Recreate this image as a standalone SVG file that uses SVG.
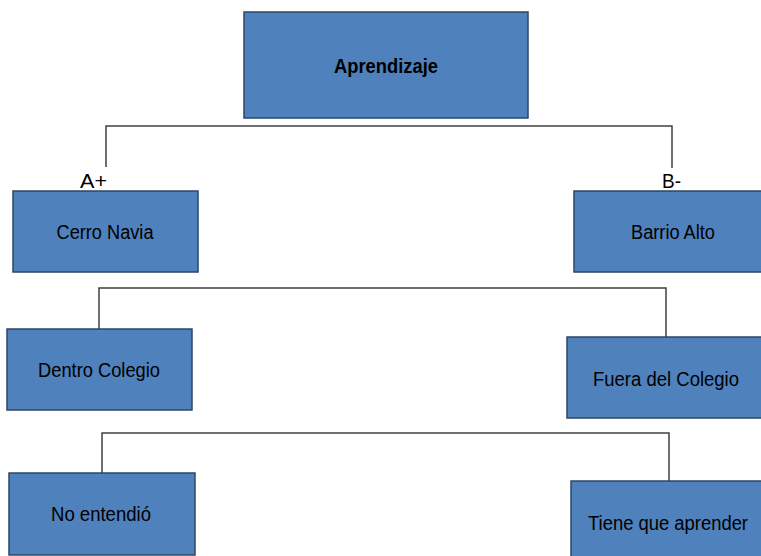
<svg xmlns="http://www.w3.org/2000/svg" width="761" height="556" viewBox="0 0 761 556">
<style>
.box{fill:#4F81BD;stroke:#2C4766;stroke-width:1.5}
.lbl{font-family:"Liberation Sans",Arial,sans-serif;font-size:20px;fill:#000;text-anchor:middle}
.bold{font-weight:bold}
.conn{fill:none;stroke:#404040;stroke-width:1.5}
.tag{font-family:"Liberation Sans",Arial,sans-serif;font-size:21px;fill:#000}
</style>
<rect width="761" height="556" fill="#fff"/>
<g id="connectors">
<polyline class="conn" points="106,167 106,126 672,126 672,168"/>
<polyline class="conn" points="99,329 99,288 666,288 666,337"/>
<polyline class="conn" points="102,473 102,433 669,433 669,481"/>
<text class="tag" x="80" y="188" textLength="27" lengthAdjust="spacingAndGlyphs">A+</text>
<text class="tag" x="662" y="188" textLength="19" lengthAdjust="spacingAndGlyphs">B-</text>
</g>
<g id="aprendizaje">
<rect class="box" x="244" y="12" width="284" height="106"/>
<text class="lbl bold" x="386" y="73" textLength="104" lengthAdjust="spacingAndGlyphs">Aprendizaje</text>
</g>
<g id="cerro-navia">
<rect class="box" x="13" y="191" width="185" height="81"/>
<text class="lbl" x="105" y="239" textLength="97" lengthAdjust="spacingAndGlyphs">Cerro Navia</text>
</g>
<g id="barrio-alto">
<rect class="box" x="574" y="191" width="190" height="81"/>
<text class="lbl" x="673" y="239" textLength="84" lengthAdjust="spacingAndGlyphs">Barrio Alto</text>
</g>
<g id="dentro-colegio">
<rect class="box" x="7" y="329" width="185" height="81"/>
<text class="lbl" x="99" y="377" textLength="122" lengthAdjust="spacingAndGlyphs">Dentro Colegio</text>
</g>
<g id="fuera-colegio">
<rect class="box" x="567" y="337" width="197" height="81"/>
<text class="lbl" x="666" y="386" textLength="146" lengthAdjust="spacingAndGlyphs">Fuera del Colegio</text>
</g>
<g id="no-entendio">
<rect class="box" x="9" y="473" width="186" height="82"/>
<text class="lbl" x="101" y="521" textLength="100" lengthAdjust="spacingAndGlyphs">No entendió</text>
</g>
<g id="tiene-que-aprender">
<rect class="box" x="571" y="481" width="193" height="80"/>
<text class="lbl" x="668" y="530" textLength="160" lengthAdjust="spacingAndGlyphs">Tiene que aprender</text>
</g>
</svg>
